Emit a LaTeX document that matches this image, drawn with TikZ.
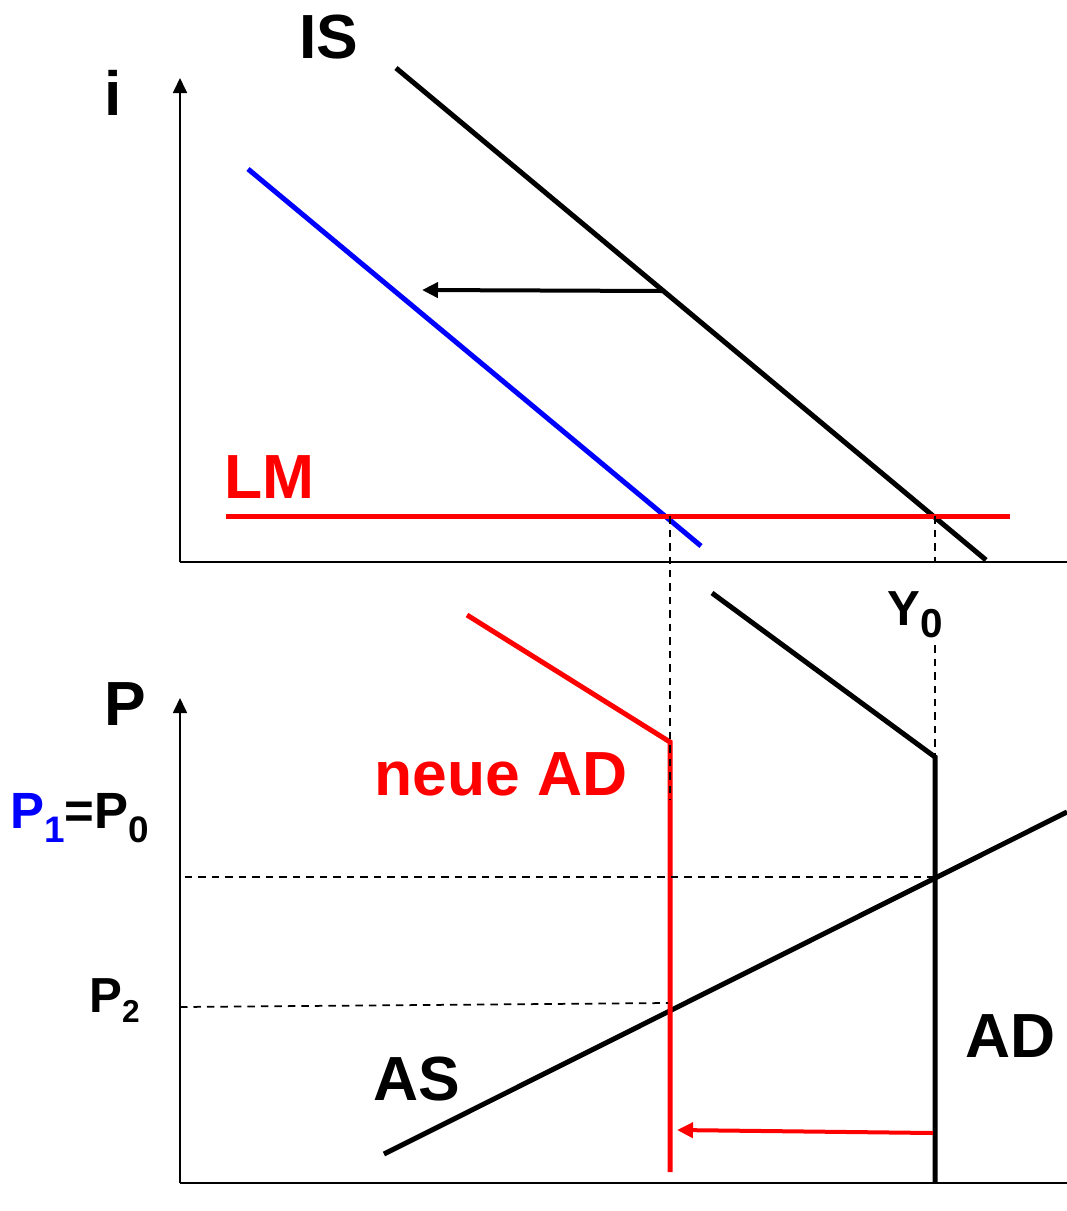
\documentclass[tikz,border=0pt]{standalone}
\usepackage{fontspec}
\setmainfont{Liberation Sans}
\usetikzlibrary{arrows.meta}
\definecolor{rotlinie}{RGB}{255,0,0}
\definecolor{blaulinie}{RGB}{0,0,255}
\newcommand{\gross}{\fontsize{35.5}{40}\selectfont\bfseries}
\newcommand{\mittel}[1]{\fontsize{#1}{#1}\selectfont\bfseries}
\newcommand{\tief}[3]{\raisebox{-#1}{\fontsize{#2}{#2}\selectfont #3}}
\begin{document}
\begin{tikzpicture}[x=0.02cm, y=-0.02cm,
    achse/.style={line width=0.035cm, -{Triangle[length=0.3cm, width=0.28cm]}},
    kurve/.style={line width=0.1cm},
    hilfslinie/.style={line width=0.035cm, dash pattern=on 0.15cm off 0.12cm},
    schub/.style={line width=0.08cm, -{Triangle[length=0.32cm, width=0.3cm]}},
    beschriftung/.style={inner sep=0pt, anchor=base west}]
    \useasboundingbox (0,0) rectangle (1067,1211);

    % Achsen oben (i, Y)
    \coordinate (oUrsprung) at (180,562);
    \coordinate (oSpitze) at (180,78);
    \coordinate (oRechts) at (1067,562);
    \draw[achse] (oUrsprung) -- (oSpitze);
    \draw[line width=0.035cm] (oUrsprung) -- (oRechts);

    % IS-Kurve alt und neu
    \coordinate (isA) at (396,68);
    \coordinate (isB) at (986,560);
    \draw[kurve] (isA) -- (isB);
    \coordinate (isNeuA) at (248,169);
    \coordinate (isNeuB) at (701,546);
    \draw[kurve, blaulinie] (isNeuA) -- (isNeuB);

    % Verschiebung der IS
    \coordinate (schubAnf) at (662,291);
    \coordinate (schubEnd) at (422,290);
    \draw[schub] (schubAnf) -- (schubEnd);

    % LM-Kurve
    \coordinate (lmA) at (226,516);
    \coordinate (lmB) at (1010,516);
    \draw[kurve, rotlinie] (lmA) -- (lmB);

    % Achsen unten (P, Y)
    \coordinate (uUrsprung) at (180,1183);
    \coordinate (uSpitze) at (180,698);
    \coordinate (uRechts) at (1067,1183);
    \draw[achse] (uUrsprung) -- (uSpitze);
    \draw[line width=0.035cm] (uUrsprung) -- (uRechts);

    % AS-Kurve
    \coordinate (asA) at (384,1154);
    \coordinate (asB) at (1067,812);
    \draw[kurve] (asA) -- (asB);

    % alte AD
    \coordinate (adA) at (712,593);
    \coordinate (adKnick) at (935,757);
    \coordinate (adFuss) at (935,1183);
    \draw[kurve] (adA) -- (adKnick) -- (adFuss);

    % neue AD
    \coordinate (adNeuA) at (467,615);
    \coordinate (adNeuKnick) at (670,742);
    \coordinate (adNeuFuss) at (670,1172);
    \draw[kurve, rotlinie] (adNeuA) -- (adNeuKnick) -- (adNeuFuss);

    % Verschiebung der AD
    \coordinate (adSchubAnf) at (933,1133);
    \coordinate (adSchubEnd) at (677,1130);
    \draw[schub, rotlinie] (adSchubAnf) -- (adSchubEnd);

    % Hilfslinien
    \coordinate (yNull) at (935,516);
    \coordinate (yNullAchse) at (935,562);
    \coordinate (yNullUnten) at (935,645);
    \draw[hilfslinie] (yNull) -- (yNullAchse);
    \draw[hilfslinie] (yNullUnten) -- (adKnick);
    \coordinate (yEins) at (670,516);
    \coordinate (yEinsUnten) at (670,800);
    \draw[hilfslinie] (yEins) -- (yEinsUnten);
    \coordinate (pNull) at (185,877);
    \coordinate (pNullRechts) at (935,877);
    \draw[hilfslinie] (pNull) -- (pNullRechts);
    \coordinate (pZwei) at (180,1007);
    \coordinate (pZweiRechts) at (668,1003);
    \draw[hilfslinie] (pZwei) -- (pZweiRechts);

    % Beschriftungen
    \node[beschriftung] (labelIS) at (299,58) {\gross IS};
    \node[beschriftung] (labelI) at (104,115) {\gross i};
    \node[beschriftung, text=rotlinie] (labelLM) at (224,498) {\gross LM};
    \node[beschriftung] (labelY) at (887,625) {\mittel{28}Y\tief{7pt}{23}{0}};
    \node[beschriftung] (labelP) at (104,725) {\gross P};
    \node[beschriftung] (labelPEins) at (10,828) {\mittel{29}\textcolor{blaulinie}{P\tief{8pt}{21}{1}}=P\tief{8pt}{21}{0}};
    \node[beschriftung, text=rotlinie] (labelNeuAD) at (374,795) {\gross neue AD};
    \node[beschriftung] (labelPZwei) at (89,1012) {\mittel{28}P\tief{6pt}{18}{2}};
    \node[beschriftung] (labelAD) at (965,1057) {\gross AD};
    \node[beschriftung] (labelAS) at (373,1100) {\gross AS};

\end{tikzpicture}
\end{document}
